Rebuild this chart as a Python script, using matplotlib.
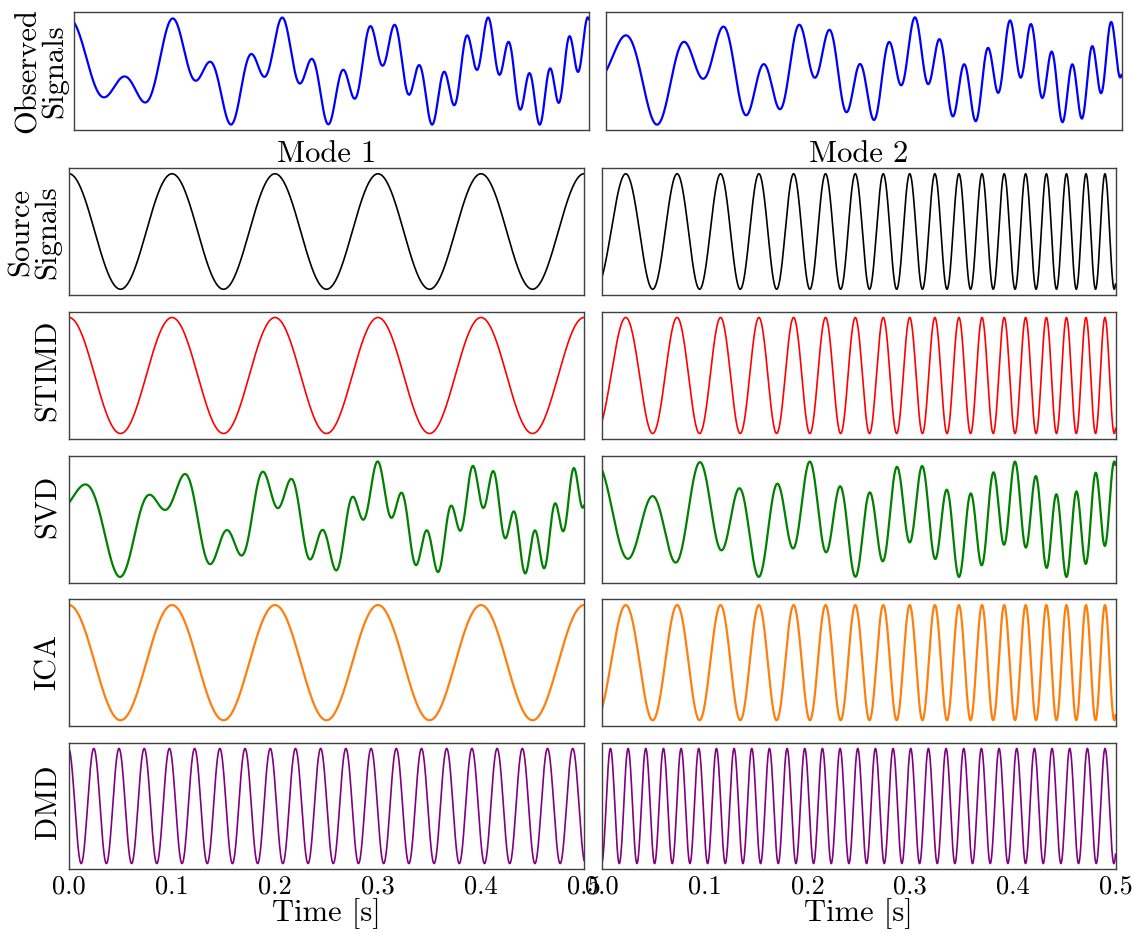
import numpy as np
import matplotlib.pyplot as plt

plt.rcParams['font.family'] = 'cmr10'
plt.rcParams['mathtext.fontset'] = 'cm'
plt.rcParams['axes.unicode_minus'] = False
plt.rcParams['axes.formatter.use_mathtext'] = True

# values
t_end = 0.5
n_samples = 2001
mode1_freq = 10.0                     # Hz, cosine, peak at t = 0
chirp_f0 = 16.2                       # Hz at t = 0
chirp_rate = 78.9                     # Hz per second
chirp_phase = -2.484                  # rad, first peak near 0.023 s
dmd_freqs = [40.86, 58.14]            # Hz
dmd_peak_times = [-0.0004, 0.00823]   # s, time of a peak
obs_weights = [[0.55, -0.45], [0.44, 0.56]]   # (mode 1, mode 2) mix
svd_weights = [[0.60, 0.40], [0.30, -0.70]]

row_labels = ['Observed\nSignals', 'Source\nSignals', 'STIMD', 'SVD', 'ICA', 'DMD']
row_colors = ['blue', 'black', 'red', 'green', '#ff7f0e', 'purple']
col_titles = ['Mode 1', 'Mode 2']
time_ticks = [0.0, 0.1, 0.2, 0.3, 0.4, 0.5]

t = np.linspace(0, t_end, n_samples)
m1 = np.cos(2 * np.pi * mode1_freq * t)
m2 = np.cos(2 * np.pi * (chirp_f0 * t + 0.5 * chirp_rate * t ** 2) + chirp_phase)
dmd = [np.cos(2 * np.pi * f * (t - tp)) for f, tp in zip(dmd_freqs, dmd_peak_times)]

rows = [
    [w[0] * m1 + w[1] * m2 for w in obs_weights],
    [m1, m2],
    [m1, m2],
    [w[0] * m1 + w[1] * m2 for w in svd_weights],
    [m1, m2],
    dmd,
]
noisy = [True, False, False, True, True, False]

# layout in pixels
W, H = 1132, 934
fig = plt.figure(figsize=(W / 100, H / 100), dpi=100)
row_px = [(12, 130), (168, 295), (311.7, 439.3), (455.7, 582.7), (599.3, 726), (742.7, 869.3)]
col_px_top = [(74, 589), (606, 1121.5)]
col_px = [(69, 584), (602, 1115.5)]
label_y = [71, 232, 370, 506.6, 661.5, 801.5]
label_x = [63, 56, 56, 56, 56, 56]

for r, (y0, y1) in enumerate(row_px):
    cols = col_px_top if r == 0 else col_px
    for c, (x0, x1) in enumerate(cols):
        ax = fig.add_axes([x0 / W, 1 - y1 / H, (x1 - x0) / W, (y1 - y0) / H])
        ax.plot(t, rows[r][c], color=row_colors[r], lw=1.6 if noisy[r] else 1.2)
        ax.set_xlim(0, t_end)
        ax.set_yticks([])
        for s in ax.spines.values():
            s.set_color('0.25')
            s.set_linewidth(1.0)
        if r == len(row_px) - 1:
            ax.set_xticks(time_ticks)
            ax.set_xticklabels(['%.1f' % v for v in time_ticks])
            ax.tick_params(axis='x', length=0, pad=4, labelsize=19)
            ax.set_xlabel('Time [s]', fontsize=22, labelpad=0)
        else:
            ax.set_xticks([])
        if r == 1:
            ax.set_title(col_titles[c], fontsize=22, pad=3.5)

for r, lab in enumerate(row_labels):
    fig.text(label_x[r] / W, 1 - label_y[r] / H, lab, rotation=90,
             rotation_mode='anchor', ha='center', va='baseline',
             fontsize=22, linespacing=0.95, multialignment='center')

fig.savefig('out.png', dpi=100)
